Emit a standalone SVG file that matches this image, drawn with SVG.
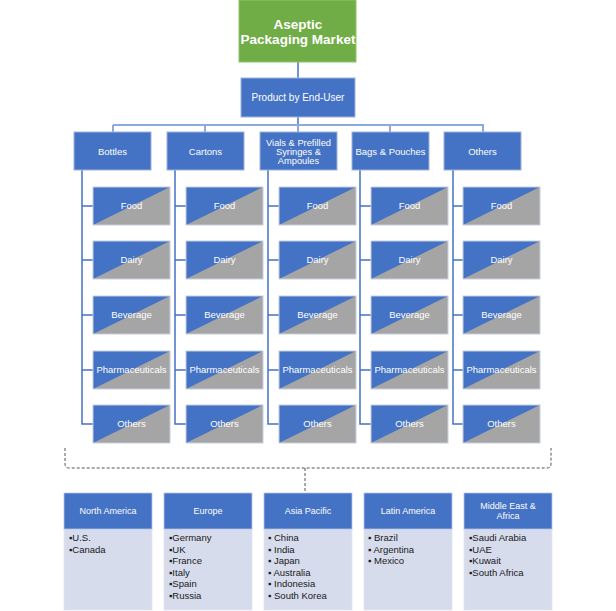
<svg xmlns="http://www.w3.org/2000/svg" width="616" height="611" viewBox="0 0 616 611">
<defs>
<style>
text{font-family:"Liberation Sans",Arial,sans-serif}
.w{fill:#fff;text-anchor:middle}
.cat{fill:#4472C4;stroke:#9DB3DE;stroke-width:1}
.sb{fill:#4472C4}
.sg{fill:#A5A5A5}
.sbd{fill:none;stroke:#C3CDE0;stroke-width:1}
.ln{stroke:#4472C4;stroke-width:1.5;fill:none}
.lt{stroke:#8EA9DB;stroke-width:2;fill:none}
.st{font-size:9.5px}
.hd{fill:#4472C4;stroke:#B4C4E4;stroke-width:0.8}
.bd{fill:#D6DCEC;stroke:#E2E7F2;stroke-width:0.8}
.bt{font-size:9.5px;fill:#1a1a1a}
.ht{font-size:9px;fill:#fff;text-anchor:middle}
.dash{stroke:#555;stroke-width:1;stroke-dasharray:3,2;fill:none}
</style>
<g id="sub">
<polygon class="sg" points="0,0 77,0 77,38 0,38"/>
<polygon class="sb" points="0,0 77,0 0,38"/>
<rect class="sbd" x="0" y="0" width="77" height="38"/>
</g>
</defs>

<g id="connectors">
<line class="ln" x1="298" y1="62" x2="298" y2="78"/>
<line class="ln" x1="298" y1="117" x2="298" y2="125"/>
<line class="lt" x1="113" y1="125" x2="484" y2="125"/>
<line class="lt" x1="113" y1="125" x2="113" y2="132"/>
<line class="lt" x1="205" y1="125" x2="205" y2="132"/>
<line class="lt" x1="298" y1="125" x2="298" y2="132"/>
<line class="lt" x1="390" y1="125" x2="390" y2="132"/>
<line class="lt" x1="483" y1="125" x2="483" y2="132"/>
<g id="tree-lines">
<path class="ln" d="M82,170 V424 H93 M82,206 H93 M82,260 H93 M82,315 H93 M82,370 H93"/>
<path class="ln" d="M175,170 V424 H186 M175,206 H186 M175,260 H186 M175,315 H186 M175,370 H186"/>
<path class="ln" d="M268,170 V424 H279 M268,206 H279 M268,260 H279 M268,315 H279 M268,370 H279"/>
<path class="ln" d="M360,170 V424 H371 M360,206 H371 M360,260 H371 M360,315 H371 M360,370 H371"/>
<path class="ln" d="M453,170 V424 H463 M453,206 H463 M453,260 H463 M453,315 H463 M453,370 H463"/>
</g>
<path class="dash" d="M65,448 V464 Q65,468 69,468 H547 Q551,468 551,464 V448"/>
<line class="dash" x1="305" y1="468" x2="305" y2="491"/>
</g>

<g id="root">
<rect x="239" y="0" width="117" height="62" fill="#70AD47" stroke="#8FC46A" stroke-width="1"/>
<text class="w" x="298" y="29" font-size="13.5" font-weight="bold">Aseptic</text>
<text class="w" x="298" y="44" font-size="13.5" font-weight="bold">Packaging Market</text>
</g>

<g id="product">
<rect class="cat" x="241" y="78" width="114" height="39"/>
<text class="w" x="298" y="101" font-size="10">Product by End-User</text>
</g>

<g id="cat-bottles"><rect class="cat" x="74" y="132" width="77" height="38"/><text class="w st" x="112.5" y="155">Bottles</text></g>
<g id="cat-cartons"><rect class="cat" x="167" y="132" width="77" height="38"/><text class="w st" x="205.5" y="155">Cartons</text></g>
<g id="cat-vials"><rect class="cat" x="260" y="132" width="77" height="38"/>
<text class="w" x="298.5" y="146" font-size="9.3">Vials &amp; Prefilled</text>
<text class="w" x="298.5" y="155" font-size="9.3">Syringes &amp;</text>
<text class="w" x="298.5" y="164" font-size="9.3">Ampoules</text></g>
<g id="cat-bags"><rect class="cat" x="352" y="132" width="77" height="38"/><text class="w st" x="390.5" y="155">Bags &amp; Pouches</text></g>
<g id="cat-others"><rect class="cat" x="444" y="132" width="77" height="38"/><text class="w st" x="482.5" y="155">Others</text></g>

<g id="col1">
<g id="c1-food"><use href="#sub" x="93" y="187"/><text class="w st" x="131.5" y="209">Food</text></g>
<g id="c1-dairy"><use href="#sub" x="93" y="241"/><text class="w st" x="131.5" y="263">Dairy</text></g>
<g id="c1-bev"><use href="#sub" x="93" y="296"/><text class="w st" x="131.5" y="318">Beverage</text></g>
<g id="c1-pharma"><use href="#sub" x="93" y="351"/><text class="w st" x="131.5" y="373">Pharmaceuticals</text></g>
<g id="c1-others"><use href="#sub" x="93" y="405"/><text class="w st" x="131.5" y="427">Others</text></g>
</g>
<g id="col2">
<g id="c2-food"><use href="#sub" x="186" y="187"/><text class="w st" x="224.5" y="209">Food</text></g>
<g id="c2-dairy"><use href="#sub" x="186" y="241"/><text class="w st" x="224.5" y="263">Dairy</text></g>
<g id="c2-bev"><use href="#sub" x="186" y="296"/><text class="w st" x="224.5" y="318">Beverage</text></g>
<g id="c2-pharma"><use href="#sub" x="186" y="351"/><text class="w st" x="224.5" y="373">Pharmaceuticals</text></g>
<g id="c2-others"><use href="#sub" x="186" y="405"/><text class="w st" x="224.5" y="427">Others</text></g>
</g>
<g id="col3">
<g id="c3-food"><use href="#sub" x="279" y="187"/><text class="w st" x="317.5" y="209">Food</text></g>
<g id="c3-dairy"><use href="#sub" x="279" y="241"/><text class="w st" x="317.5" y="263">Dairy</text></g>
<g id="c3-bev"><use href="#sub" x="279" y="296"/><text class="w st" x="317.5" y="318">Beverage</text></g>
<g id="c3-pharma"><use href="#sub" x="279" y="351"/><text class="w st" x="317.5" y="373">Pharmaceuticals</text></g>
<g id="c3-others"><use href="#sub" x="279" y="405"/><text class="w st" x="317.5" y="427">Others</text></g>
</g>
<g id="col4">
<g id="c4-food"><use href="#sub" x="371" y="187"/><text class="w st" x="409.5" y="209">Food</text></g>
<g id="c4-dairy"><use href="#sub" x="371" y="241"/><text class="w st" x="409.5" y="263">Dairy</text></g>
<g id="c4-bev"><use href="#sub" x="371" y="296"/><text class="w st" x="409.5" y="318">Beverage</text></g>
<g id="c4-pharma"><use href="#sub" x="371" y="351"/><text class="w st" x="409.5" y="373">Pharmaceuticals</text></g>
<g id="c4-others"><use href="#sub" x="371" y="405"/><text class="w st" x="409.5" y="427">Others</text></g>
</g>
<g id="col5">
<g id="c5-food"><use href="#sub" x="463" y="187"/><text class="w st" x="501.5" y="209">Food</text></g>
<g id="c5-dairy"><use href="#sub" x="463" y="241"/><text class="w st" x="501.5" y="263">Dairy</text></g>
<g id="c5-bev"><use href="#sub" x="463" y="296"/><text class="w st" x="501.5" y="318">Beverage</text></g>
<g id="c5-pharma"><use href="#sub" x="463" y="351"/><text class="w st" x="501.5" y="373">Pharmaceuticals</text></g>
<g id="c5-others"><use href="#sub" x="463" y="405"/><text class="w st" x="501.5" y="427">Others</text></g>
</g>

<g id="reg-na">
<rect class="bd" x="64" y="529" width="88" height="81"/>
<rect class="hd" x="64" y="493" width="88" height="36"/>
<text class="ht" x="108" y="514">North America</text>
<text class="bt" x="69" y="541">▪U.S.</text>
<text class="bt" x="69" y="553">▪Canada</text>
</g>
<g id="reg-eu">
<rect class="bd" x="164" y="529" width="88" height="81"/>
<rect class="hd" x="164" y="493" width="88" height="36"/>
<text class="ht" x="208" y="514">Europe</text>
<text class="bt" x="169" y="541">▪Germany</text>
<text class="bt" x="169" y="553">▪UK</text>
<text class="bt" x="169" y="564">▪France</text>
<text class="bt" x="169" y="576">▪Italy</text>
<text class="bt" x="169" y="587">▪Spain</text>
<text class="bt" x="169" y="599">▪Russia</text>
</g>
<g id="reg-ap">
<rect class="bd" x="264" y="529" width="88" height="81"/>
<rect class="hd" x="264" y="493" width="88" height="36"/>
<text class="ht" x="308" y="514">Asia Pacific</text>
<text class="bt" x="268" y="541">▪ China</text>
<text class="bt" x="268" y="553">▪ India</text>
<text class="bt" x="268" y="564">▪ Japan</text>
<text class="bt" x="268" y="576">▪ Australia</text>
<text class="bt" x="268" y="587">▪ Indonesia</text>
<text class="bt" x="268" y="599">▪ South Korea</text>
</g>
<g id="reg-la">
<rect class="bd" x="364" y="529" width="88" height="81"/>
<rect class="hd" x="364" y="493" width="88" height="36"/>
<text class="ht" x="408" y="514">Latin America</text>
<text class="bt" x="368" y="541">▪ Brazil</text>
<text class="bt" x="368" y="553">▪ Argentina</text>
<text class="bt" x="368" y="564">▪ Mexico</text>
</g>
<g id="reg-mea">
<rect class="bd" x="464" y="529" width="88" height="81"/>
<rect class="hd" x="464" y="493" width="88" height="36"/>
<text class="ht" x="508" y="509">Middle East &amp;</text>
<text class="ht" x="508" y="519">Africa</text>
<text class="bt" x="469" y="541">▪Saudi Arabia</text>
<text class="bt" x="469" y="553">▪UAE</text>
<text class="bt" x="469" y="564">▪Kuwait</text>
<text class="bt" x="469" y="576">▪South Africa</text>
</g>
</svg>
